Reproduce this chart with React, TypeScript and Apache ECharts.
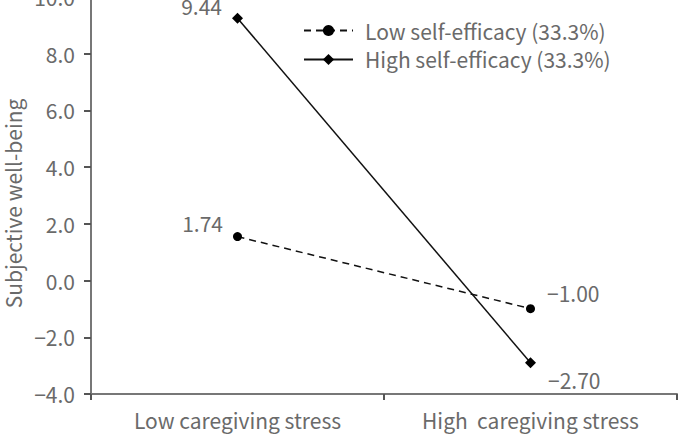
import React, { useEffect, useRef } from "react";
import * as echarts from "echarts";

const categories = ["Low caregiving stress", "High  caregiving stress"];
const seriesNames = ["Low self-efficacy (33.3%)", "High self-efficacy (33.3%)"];
const lowValues = [1.55, -0.99];
const highValues = [9.25, -2.9];
const lowLabels = ["1.74", "\u22121.00"];
const highLabels = ["9.44", "\u22122.70"];
const yTicks = [-4, -2, 0, 2, 4, 6, 8, 10];

const FONT = "'Noto Sans CJK KR', 'Noto Sans', sans-serif";
const GRAY = "#6a6a6a";
const FS = 21;

export default function App() {
  const ref = useRef<HTMLDivElement>(null);
  useEffect(() => {
    const chart = echarts.init(ref.current!, null, { renderer: "svg" });
    const fmt = (v: number) => (v < 0 ? "\u2212" + Math.abs(v).toFixed(1) : v.toFixed(1));
    chart.setOption({
      animation: false,
      textStyle: { fontFamily: FONT },
      grid: { left: 91, right: 1, top: -3, bottom: 45, outerBoundsMode: "none", containLabel: false },
      legend: {
        orient: "vertical",
        left: 303,
        top: 20,
        padding: 0,
        itemWidth: 49,
        itemHeight: 14,
        itemGap: 8,
        textStyle: { fontFamily: FONT, fontSize: FS, color: GRAY, padding: [0, 0, 0, 7] },
        data: seriesNames,
      },
      xAxis: {
        type: "category",
        data: categories,
        boundaryGap: true,
        axisLine: { onZero: false, lineStyle: { color: "#777", width: 2 } },
        axisTick: { show: true, length: 6, lineStyle: { color: "#555", width: 2 } },
        axisLabel: { fontFamily: FONT, fontSize: FS, color: GRAY, margin: 15 },
      },
      yAxis: {
        type: "value",
        min: yTicks[0],
        max: yTicks[yTicks.length - 1],
        interval: 2,
        name: "Subjective well-being",
        nameLocation: "middle",
        nameGap: 64,
        nameTextStyle: { fontFamily: FONT, fontSize: FS, color: GRAY, padding: [0, 16, 0, 0] },
        splitLine: { show: false },
        axisLine: { show: true, lineStyle: { color: "#777", width: 2 } },
        axisTick: { show: true, length: 7, lineStyle: { color: "#555", width: 2 } },
        axisLabel: { fontFamily: FONT, fontSize: FS, color: GRAY, margin: 16, formatter: fmt },
      },
      series: [
        {
          name: seriesNames[0],
          type: "line",
          data: lowValues.map((v, i) => ({
            value: v,
            label: {
              show: true,
              formatter: lowLabels[i],
              position: i === 0 ? "left" : "right",
              distance: i === 0 ? 10 : 12,
              offset: i === 0 ? [0, -14] : [0, -16],
              fontFamily: FONT,
              fontSize: FS,
              color: GRAY,
            },
          })),
          symbol: "circle",
          symbolSize: 9,
          lineStyle: { color: "#111", width: 1.5, type: [7, 5] },
          itemStyle: { color: "#000" },
        },
        {
          name: seriesNames[1],
          type: "line",
          data: highValues.map((v, i) => ({
            value: v,
            label: {
              show: true,
              formatter: highLabels[i],
              position: i === 0 ? "left" : "right",
              distance: i === 0 ? 10 : 12,
              offset: i === 0 ? [0, -12] : [0, 17],
              fontFamily: FONT,
              fontSize: FS,
              color: GRAY,
            },
          })),
          symbol: "diamond",
          symbolSize: 11,
          lineStyle: { color: "#111", width: 1.5, type: "solid" },
          itemStyle: { color: "#000" },
        },
      ],
    });
    return () => chart.dispose();
  }, []);
  return <div ref={ref} style={{ width: 678, height: 439, position: "absolute", left: 0, top: 0 }} />;
}
